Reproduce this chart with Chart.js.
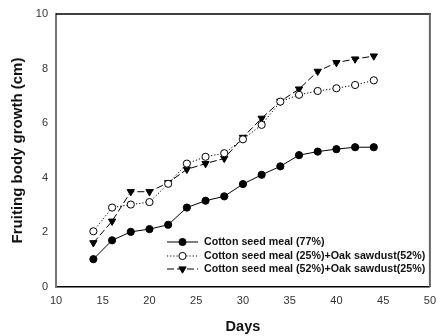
<!DOCTYPE html>
<html>
<head>
<meta charset="utf-8">
<script src="https://cdn.jsdelivr.net/npm/chart.js@4/dist/chart.umd.min.js"></script>
<style>
html,body{margin:0;padding:0;background:#fff;}
#wrap{width:438px;height:336px;}
</style>
</head>
<body>
<div id="wrap"><canvas id="c" width="438" height="336"></canvas></div>
<script>
const days = [14,16,18,20,22,24,26,28,30,32,34,36,38,40,42,44];
const csm77 = [1.02,1.71,2.02,2.12,2.28,2.91,3.16,3.32,3.77,4.11,4.42,4.83,4.96,5.05,5.12,5.12];
const csm25oak52 = [2.04,2.91,3.02,3.11,3.78,4.52,4.77,4.90,5.41,5.94,6.79,7.04,7.18,7.28,7.40,7.57];
const csm52oak25 = [1.62,2.41,3.49,3.49,3.82,4.31,4.52,4.71,5.48,6.18,6.80,7.25,7.90,8.22,8.35,8.46];
const seriesLabels = ['Cotton seed meal (77%)','Cotton seed meal (25%)+Oak sawdust(52%)','Cotton seed meal (52%)+Oak sawdust(25%)'];
const xTicks = [10,15,20,25,30,35,40,45,50];
const yTicks = [0,2,4,6,8,10];

function pts(arr){ return days.map((d,i)=>({x:d,y:arr[i]})); }

const styles = [
  {dash:[], pointStyle:'circle', bg:'#000', r:3.6},
  {dash:[1.2,2], pointStyle:'circle', bg:'#fff', r:3.6},
  {dash:[7,3], pointStyle:'triangle', bg:'#000', r:4.2, rot:180}
];

const datasets = [csm77, csm25oak52, csm52oak25].map((arr,i)=>({
  label: seriesLabels[i],
  data: pts(arr),
  borderColor:'#000',
  borderWidth:1,
  borderDash: styles[i].dash,
  pointStyle: styles[i].pointStyle,
  pointRotation: styles[i].rot || 0,
  pointRadius: styles[i].r,
  pointBackgroundColor: styles[i].bg,
  pointBorderColor:'#000',
  pointBorderWidth:1,
  tension:0,
  fill:false
}));

const framePlugin = {
  id:'frame',
  afterDraw(chart){
    const {ctx, chartArea:a} = chart;
    ctx.save();
    ctx.strokeStyle='#000'; ctx.lineWidth=1.5;
    ctx.beginPath(); ctx.moveTo(a.left, a.top); ctx.lineTo(a.right+1, a.top); ctx.stroke();
    ctx.strokeStyle='#666'; ctx.lineWidth=2;
    ctx.beginPath(); ctx.moveTo(a.right, a.top); ctx.lineTo(a.right, a.bottom); ctx.stroke();
    const lx = 167, tx = 204;
    const rows = [242, 256, 269];
    chart.data.datasets.forEach((ds,i)=>{
      const y = rows[i];
      ctx.strokeStyle='#000'; ctx.lineWidth=1;
      ctx.setLineDash(ds.borderDash);
      ctx.beginPath(); ctx.moveTo(lx, y); ctx.lineTo(lx+31, y); ctx.stroke();
      ctx.setLineDash([]);
      ctx.fillStyle = ds.pointBackgroundColor; ctx.strokeStyle='#000';
      Chart.helpers.drawPoint(ctx, {pointStyle: ds.pointStyle, rotation: ds.pointRotation, radius: ds.pointRadius, borderWidth:1}, lx+15.5, y);
      ctx.fillStyle='#111';
      ctx.font='bold 10.7px Arial, "Liberation Sans", sans-serif';
      ctx.textBaseline='middle'; ctx.textAlign='left';
      ctx.fillText(ds.label, tx, y+0.5);
    });
    ctx.restore();
  }
};

new Chart(document.getElementById('c'), {
  type:'line',
  data:{datasets},
  options:{
    responsive:false,
    animation:false,
    devicePixelRatio:1,
    layout:{padding:{left:0,right:6,top:14,bottom:0}},
    plugins:{legend:{display:false}, tooltip:{enabled:false}},
    scales:{
      x:{
        type:'linear', min:10, max:50,
        afterBuildTicks(s){ s.ticks = xTicks.map(v=>({value:v})); },
        afterFit(s){ s.height = 49; },
        grid:{display:false, drawOnChartArea:false, drawTicks:true, tickLength:5, tickColor:'#000'},
        border:{display:true, color:'#000', width:1.5},
        ticks:{color:'#333', font:{family:'Arial, "Liberation Sans", sans-serif', size:11}, padding:2, maxRotation:0},
        title:{display:true, text:'Days', color:'#111', font:{family:'Arial, "Liberation Sans", sans-serif', size:14.5, weight:'bold'}, padding:{top:8,bottom:0}}
      },
      y:{
        type:'linear', min:0, max:10,
        afterBuildTicks(s){ s.ticks = yTicks.map(v=>({value:v})); },
        afterFit(s){ s.width = 56; },
        grid:{display:false, drawOnChartArea:false, drawTicks:true, tickLength:5, tickColor:'#000'},
        border:{display:true, color:'#777', width:2},
        ticks:{color:'#333', font:{family:'Arial, "Liberation Sans", sans-serif', size:11}, padding:3},
        title:{display:true, text:'Fruiting body growth (cm)', color:'#111', font:{family:'Arial, "Liberation Sans", sans-serif', size:15, weight:'bold'}, padding:{top:9,bottom:0}}
      }
    }
  },
  plugins:[framePlugin]
});
</script>
</body>
</html>
